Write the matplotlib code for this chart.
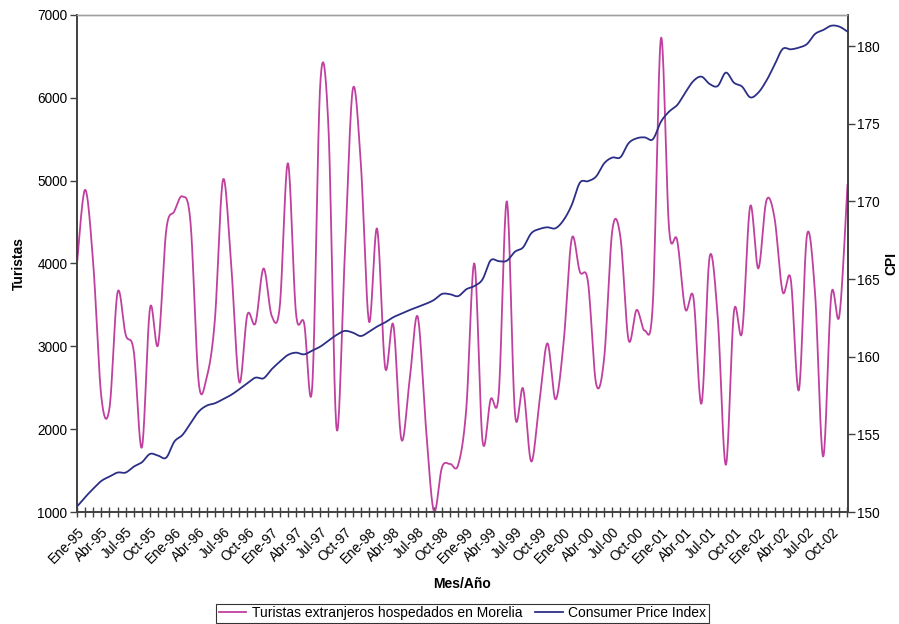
import numpy as np
import matplotlib
matplotlib.use("Agg")
import matplotlib.pyplot as plt
from matplotlib.ticker import FixedLocator, NullFormatter

plt.rcParams['font.family'] = ['Liberation Sans', 'DejaVu Sans']

meses = ["Ene", "Feb", "Mar", "Abr", "May", "Jun", "Jul", "Ago", "Sep", "Oct", "Nov", "Dic"]
years = ["95", "96", "97", "98", "99", "00", "01", "02"]
month_labels = [f"{m}-{y}" for y in years for m in meses]

turistas = [
    4000, 4890, 4000, 2390, 2250, 3650, 3140, 2940, 1780, 3460, 3020, 4400,
    4630, 4810, 4490, 2570, 2630, 3320, 5010, 4000, 2570, 3380, 3280, 3940,
    3370, 3480, 5210, 3400, 3280, 2510, 6180, 5650, 2010, 4050, 6100, 5200,
    3300, 4420, 2740, 3260, 1875, 2580, 3360, 2050, 1010, 1540, 1580, 1570,
    2250, 4000, 1860, 2360, 2430, 4750, 2190, 2490, 1610, 2320, 3036, 2360,
    3050, 4300, 3900, 3780, 2550, 2860, 4400, 4320, 3080, 3440, 3190, 3520,
    6720, 4420, 4280, 3450, 3590, 2310, 4080, 3350, 1570, 3420, 3170, 4690,
    3940, 4760, 4550, 3660, 3810, 2470, 4340, 3640, 1670, 3620, 3370, 4950,
]

cpi = [
    150.35, 150.95, 151.5, 152.0, 152.28, 152.54, 152.54, 152.92, 153.2, 153.74, 153.63, 153.5,
    154.53, 154.96, 155.71, 156.46, 156.85, 157.0, 157.26, 157.54, 157.9, 158.29, 158.65, 158.61,
    159.19, 159.68, 160.11, 160.26, 160.15, 160.39, 160.65, 161.03, 161.4, 161.66, 161.55, 161.33,
    161.61, 161.94, 162.21, 162.54, 162.77, 163.0, 163.2, 163.4, 163.65, 164.04, 164.02, 163.9,
    164.34, 164.55, 164.98, 166.2, 166.15, 166.18, 166.76, 167.04, 167.94, 168.22, 168.33, 168.27,
    168.8, 169.77, 171.2, 171.3, 171.6, 172.45, 172.82, 172.84, 173.74, 174.06, 174.12, 174.0,
    175.13, 175.78, 176.2, 177.0, 177.75, 178.03, 177.56, 177.43, 178.29, 177.64, 177.39, 176.7,
    177.0, 177.77, 178.78, 179.81, 179.79, 179.9, 180.13, 180.78, 181.03, 181.31, 181.25, 180.93,
]


def smooth(x, y, n=20):
    """Excel-style smoothed line: cubic Bezier with Catmull-Rom tangents."""
    x = np.asarray(x, float)
    y = np.asarray(y, float)
    P = np.column_stack([x, y])
    Pe = np.vstack([P[0], P, P[-1]])
    out = []
    t = np.linspace(0, 1, n, endpoint=False)[:, None]
    for i in range(len(P) - 1):
        p0, p1, p2, p3 = Pe[i], Pe[i + 1], Pe[i + 2], Pe[i + 3]
        c1 = p1 + (p2 - p0) / 6.0
        c2 = p2 - (p3 - p1) / 6.0
        seg = ((1 - t) ** 3) * p1 + 3 * ((1 - t) ** 2) * t * c1 + 3 * (1 - t) * t ** 2 * c2 + t ** 3 * p2
        out.append(seg)
    out.append(P[-1][None, :])
    out = np.vstack(out)
    return out[:, 0], out[:, 1]


W, H = 899, 624
fig = plt.figure(figsize=(W / 100, H / 100), dpi=100)
ax = fig.add_axes([77 / W, 1 - 512 / H, (847.5 - 77) / W, (512 - 15) / H])
ax2 = ax.twinx()

idx = np.arange(len(turistas))
sx, sy = smooth(idx, turistas)
l1, = ax.plot(sx, sy, color='#C0409F', lw=1.3, label='Turistas extranjeros hospedados en Morelia')
cx, cy = smooth(idx, cpi)
l2, = ax2.plot(cx, cy, color='#2B2F86', lw=1.3, label='Consumer Price Index')

ax.set_xlim(0, len(turistas) - 1)
ax.set_ylim(1000, 7000)
ax2.set_ylim(150, 182)
ax.set_yticks(np.arange(1000, 7001, 1000))
ax2.set_yticks(np.arange(150, 181, 5))

ax.xaxis.set_major_locator(FixedLocator(idx[::3]))
ax.set_xticklabels(month_labels[::3], rotation=45, ha='right', rotation_mode='anchor', fontsize=9.8)
ax.xaxis.set_minor_locator(FixedLocator(idx))
ax.xaxis.set_minor_formatter(NullFormatter())
ax.tick_params(axis='x', which='both', direction='inout', length=7, width=1, color='#404040', pad=6)
ax.tick_params(axis='y', direction='out', length=5, width=1, color='#404040', labelsize=9.8, pad=2)
ax2.tick_params(axis='y', direction='out', length=5, width=1, color='#404040', labelsize=9.8, pad=2)

for a in (ax, ax2):
    for s in ('left', 'bottom', 'right'):
        a.spines[s].set_color('#404040')
        a.spines[s].set_linewidth(1.2)
    a.spines['top'].set_color('#A0A0A0')
    a.spines['top'].set_linewidth(1.0)

ax.set_ylabel('Turistas', fontsize=10, fontweight='bold', labelpad=8)
ax2.set_ylabel('CPI', fontsize=10, fontweight='bold', labelpad=3)
ax.set_xlabel('Mes/Año', fontsize=10, fontweight='bold', labelpad=8)

leg = fig.legend(handles=[l1, l2], loc='upper center', bbox_to_anchor=(462.5 / W, 1 - 603.5 / H),
                 ncol=2, frameon=True, fancybox=False, edgecolor='black', fontsize=10,
                 handlelength=2.0, columnspacing=0.9, handletextpad=0.4, borderpad=0.2,
                 borderaxespad=0.0)
leg.get_frame().set_linewidth(0.8)

fig.savefig('out.png', dpi=100)
